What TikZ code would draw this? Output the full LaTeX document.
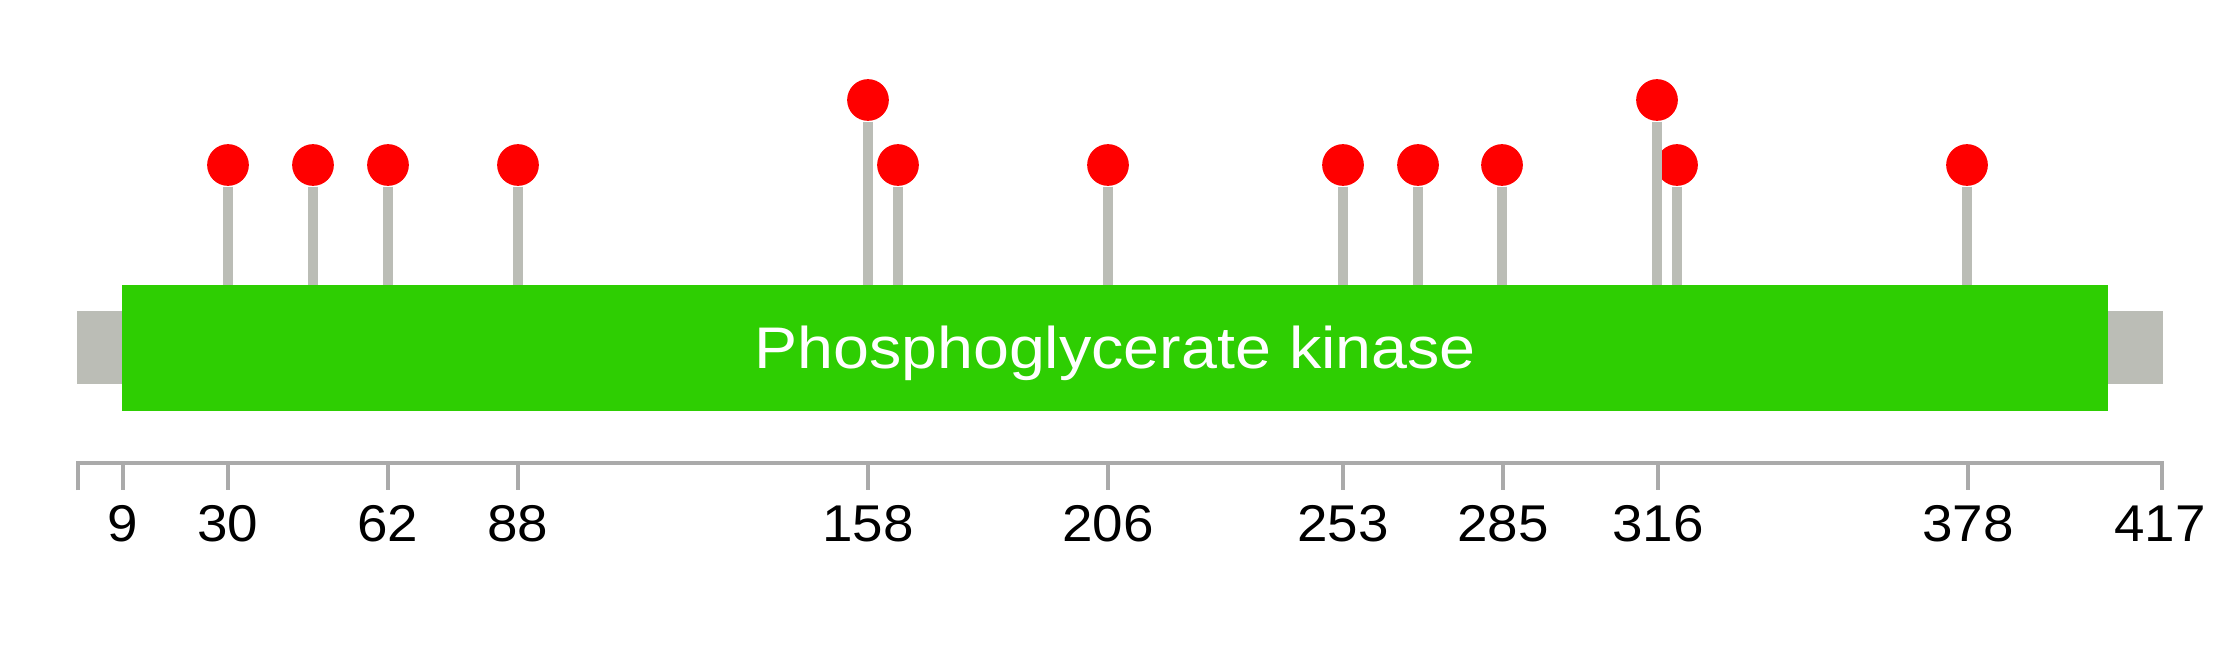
\documentclass[tikz,border=0pt]{standalone}
\usepackage{fontspec}
\setmainfont{Liberation Sans}
\definecolor{domgreen}{RGB}{46,206,2}
\definecolor{stemgrey}{RGB}{187,189,182}
\definecolor{axisgrey}{RGB}{170,170,170}
\begin{document}
\begin{tikzpicture}[x=0.01cm,y=-0.01cm,
  site/.style={circle,fill=red,inner sep=0pt,minimum size=0.417cm},
  stemline/.style={draw=stemgrey,line width=2.845pt},
  axisline/.style={draw=axisgrey,line width=1.35pt},
  ticklbl/.style={anchor=base,inner sep=0pt,font=\fontsize{14.7}{17}\selectfont},
  boxnode/.style={inner sep=0pt,outer sep=0pt}]
\useasboundingbox (0,0) rectangle (2239,645);
\fill[white] (0,0) rectangle (2239,645);
% backbone
\node[boxnode,fill=stemgrey,minimum width=20.84cm,minimum height=0.73cm] (chain) at (1120,347.5) {};
% sites
\node[site] (s30)  at (228,165) {};
\node[site] (s47)  at (313,165) {};
\node[site] (s62)  at (388,165) {};
\node[site] (s88)  at (518,165) {};
\node[site] (s158) at (868,100) {};
\node[site] (s164) at (898,165) {};
\node[site] (s206) at (1108,165) {};
\node[site] (s253) at (1343,165) {};
\node[site] (s268) at (1418,165) {};
\node[site] (s285) at (1502,165) {};
\node[site] (s316) at (1657,100) {};
\node[site] (s320) at (1677,165) {};
\node[site] (s378) at (1967,165) {};
\coordinate (top) at (0,285);
\foreach \s in {s30,s47,s62,s88,s158,s164,s206,s253,s268,s285,s316,s320,s378}
  \draw[stemline] (\s.south) -- (\s.south |- top);
% domain
\node[boxnode,fill=domgreen,minimum width=19.84cm,minimum height=1.26cm] (dom) at (1115,348) {};
\node[anchor=base,inner sep=0pt,text=white,font=\fontsize{16.7}{20}\selectfont] (domlbl) at (1115,368) {\scalebox{1.1}[1]{Phosphoglycerate kinase}};
% axis
\coordinate (axl) at (78,463);
\coordinate (axr) at (2162,463);
\draw[axisline] (78,490) -- (axl) -- (axr) -- (2162,490);
\foreach \x/\l in {123/9,228/30,388/62,518/88,868/158,1108/206,1343/253,1503/285,1658/316,1968/378}{
  \draw[axisline] (\x,463) -- (\x,490);
  \node[ticklbl] (lbl\l) at (\x,541) {\scalebox{1.06}[1]{\l}};
}
\node[ticklbl] (lbl417) at (2160,541) {\scalebox{1.06}[1]{417}};
\end{tikzpicture}
\end{document}
